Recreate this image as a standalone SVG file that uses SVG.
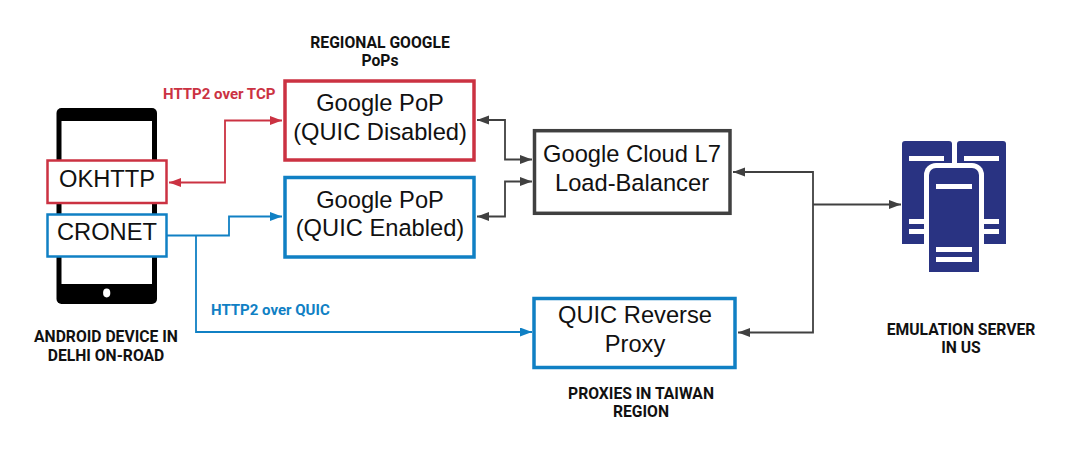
<svg xmlns="http://www.w3.org/2000/svg" width="1068" height="455" viewBox="0 0 1068 455">
<style>
.box{fill:#fff}
.red{stroke:#cb3242}
.blue{stroke:#1080c4}
.dark{stroke:#404040}
.big{font:23.700px "Liberation Sans",Arial,sans-serif;fill:#111;text-anchor:middle}
.cap{font:bold 15.700px Roboto,"Liberation Sans",sans-serif;fill:#111;text-anchor:middle}
.lab{font:bold 15px Roboto,"Liberation Sans",sans-serif}
.ln{fill:none;stroke-width:1.8}
.srv{fill:#293382}
.w{fill:#fff}
</style>
<defs>
<marker id="aR" markerUnits="userSpaceOnUse" markerWidth="12" markerHeight="10" refX="12" refY="4.5" orient="auto-start-reverse"><path d="M0 0L12 4.5L0 9Z" fill="#cb3242"/></marker>
<marker id="aB" markerUnits="userSpaceOnUse" markerWidth="12" markerHeight="10" refX="12" refY="4.5" orient="auto-start-reverse"><path d="M0 0L12 4.5L0 9Z" fill="#1080c4"/></marker>
<marker id="aD" markerUnits="userSpaceOnUse" markerWidth="12" markerHeight="10" refX="12" refY="4.5" orient="auto-start-reverse"><path d="M0 0L12 4.5L0 9Z" fill="#404040"/></marker>
</defs>
<rect width="1068" height="455" fill="#fff"/>
<g id="phone">
<rect x="56.500" y="108" width="100.500" height="196" rx="5" fill="#000"/>
<rect x="61.500" y="121" width="90.500" height="163" fill="#fff"/>
<ellipse cx="106.700" cy="293" rx="3.600" ry="4.400" fill="#fff"/>
</g>
<g id="connectors">
<path class="ln red" d="M169 182.500H225V120.500H282" marker-start="url(#aR)" marker-end="url(#aR)"/>
<path class="ln blue" d="M167 235.500H229V216.500H282" marker-end="url(#aB)"/>
<path class="ln blue" d="M196 235.500V332H532" marker-end="url(#aB)"/>
<path class="ln dark" d="M477 120H505V159.500H532" marker-start="url(#aD)" marker-end="url(#aD)"/>
<path class="ln dark" d="M477 216.500H505V181.500H532" marker-start="url(#aD)" marker-end="url(#aD)"/>
<path class="ln dark" d="M733 172H813V332.500H738" marker-start="url(#aD)" marker-end="url(#aD)"/>
<path class="ln dark" d="M813 204.500H901" marker-end="url(#aD)"/>
</g>
<g id="okhttp"><rect class="box red" x="47.500" y="160.500" width="119" height="42.500" stroke-width="2.500"/><text class="big" x="107" y="187">OKHTTP</text></g>
<g id="cronet"><rect class="box blue" x="47.500" y="214.500" width="119" height="42" stroke-width="2.500"/><text class="big" x="107" y="240">CRONET</text></g>
<g id="pop-disabled"><rect class="box red" x="285" y="81" width="189" height="79" stroke-width="3.500"/><text class="big" x="380" y="111">Google PoP</text><text class="big" x="380" y="140">(QUIC Disabled)</text></g>
<g id="pop-enabled"><rect class="box blue" x="285" y="177.500" width="189" height="79.500" stroke-width="3.500"/><text class="big" x="380" y="208">Google PoP</text><text class="big" x="380" y="236">(QUIC Enabled)</text></g>
<g id="load-balancer"><rect class="box dark" x="534.500" y="130.700" width="195.500" height="82.600" stroke-width="3.500"/><text class="big" x="632" y="162">Google Cloud L7</text><text class="big" x="632" y="191">Load-Balancer</text></g>
<g id="quic-proxy"><rect class="box blue" x="534" y="298.500" width="201" height="69" stroke-width="3.500"/><text class="big" x="635" y="323">QUIC Reverse</text><text class="big" x="635" y="352">Proxy</text></g>
<g id="server">
<path class="srv" d="M902 144a3 3 0 0 1 3-3H949a3 3 0 0 1 3 3V244H902Z"/>
<path class="srv" d="M957 144a3 3 0 0 1 3-3H1003a3 3 0 0 1 3 3V244H957Z"/>
<rect class="w" x="909" y="156" width="35" height="5"/><rect class="w" x="964" y="156" width="35" height="5"/>
<rect class="w" x="909" y="219" width="35" height="5"/><rect class="w" x="909" y="229" width="35" height="5"/>
<rect class="w" x="964" y="219" width="35" height="5"/><rect class="w" x="964" y="229" width="35" height="5"/>
<path class="w" d="M924 175a12 12 0 0 1 12-12H972a12 12 0 0 1 12 12V276H924Z"/>
<path class="srv" d="M929 175a7 7 0 0 1 7-7H972a7 7 0 0 1 7 7V272H929Z"/>
<rect class="w" x="936" y="184" width="36" height="5"/><rect class="w" x="936" y="247" width="36" height="5"/><rect class="w" x="936" y="257" width="36" height="5"/>
</g>
<g id="labels">
<text class="cap" x="380" y="48">REGIONAL GOOGLE</text><text class="cap" x="380" y="66">PoPs</text>
<text class="cap" x="106" y="342">ANDROID DEVICE IN</text><text class="cap" x="106" y="361">DELHI ON-ROAD</text>
<text class="cap" x="641" y="399">PROXIES IN TAIWAN</text><text class="cap" x="641" y="417">REGION</text>
<text class="cap" x="961" y="335">EMULATION SERVER</text><text class="cap" x="961" y="353">IN US</text>
<text class="lab" x="163" y="99" fill="#cb3242">HTTP2 over TCP</text>
<text class="lab" x="211" y="315" fill="#1080c4">HTTP2 over QUIC</text>
</g>
</svg>
